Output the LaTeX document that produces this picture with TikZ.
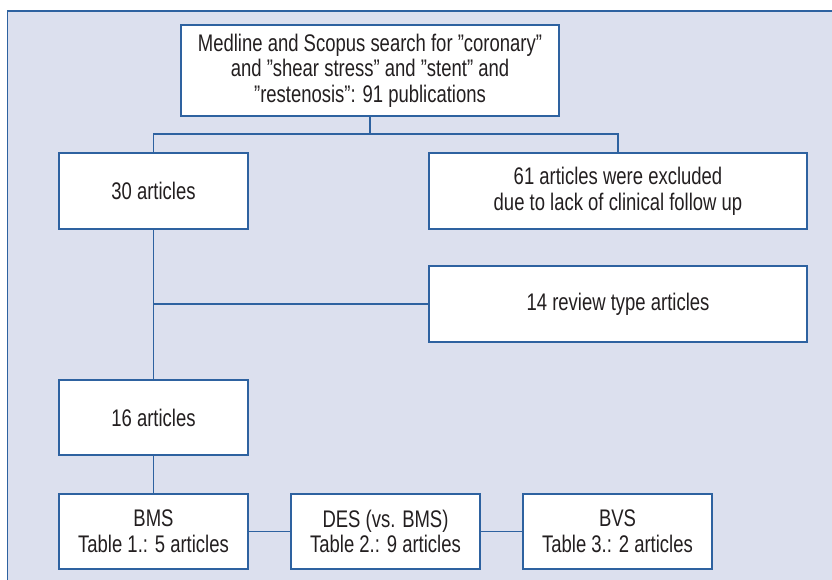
\documentclass[tikz,border=0pt]{standalone}
\usepackage{fontspec}
\setmainfont{Liberation Sans}[FakeStretch=0.77]
\definecolor{panel}{HTML}{DCE0EE}
\definecolor{edge}{HTML}{2E62A0}
\definecolor{ink}{HTML}{231F20}
\tikzset{
  box/.style={draw=edge, fill=white, line width=1.8pt, rectangle, inner sep=0pt,
    align=center, text=ink, font=\fontsize{24}{25.7}\selectfont},
  link/.style={draw=edge, line width=1.8pt}
}
\begin{document}
\begin{tikzpicture}[x=1pt,y=-1pt]
\useasboundingbox (0,0) rectangle (832,580);
\fill[panel] (7.5,11) rectangle (832,580);
\draw[edge, line width=1.8pt] (7.5,580) -- (7.5,11) -- (832,11);

\node[box, minimum width=378pt, minimum height=91pt] (top) at (370,70.5)
  {Medline and Scopus search for ”coronary”\\and ”shear stress” and ”stent” and\\”restenosis”: 91 publications};
\node[box, minimum width=189pt, minimum height=76pt] (n30) at (153.5,191) {30 articles};
\node[box, minimum width=378pt, minimum height=76pt] (n61) at (618,191)
  {61 articles were excluded\\due to lack of clinical follow up};
\node[box, minimum width=378pt, minimum height=76pt] (n14) at (618,304) {14 review type articles};
\node[box, minimum width=189pt, minimum height=75pt] (n16) at (153.5,417.5) {16 articles};
\node[box, minimum width=189pt, minimum height=75pt] (bms) at (153.5,531.5) {BMS\\Table 1.: 5 articles};
\node[box, minimum width=189pt, minimum height=75pt] (des) at (385.5,531.5) {DES (vs. BMS)\\Table 2.: 9 articles};
\node[box, minimum width=189pt, minimum height=75pt] (bvs) at (617.5,531.5) {BVS\\Table 3.: 2 articles};

\coordinate (j) at (370,134);
\draw[link] (top.south) -- (j);
\draw[link] (n30.north) |- (j) -| (n61.north);
\draw[link] (n30.south) -- (n16.north);
\coordinate (k) at (n30.south |- n14.west);
\draw[link] (k) -- (n14.west);
\draw[link] (n16.south) -- (bms.north);
\draw[link] (bms.east) -- (des.west);
\draw[link] (des.east) -- (bvs.west);
\end{tikzpicture}
\end{document}
